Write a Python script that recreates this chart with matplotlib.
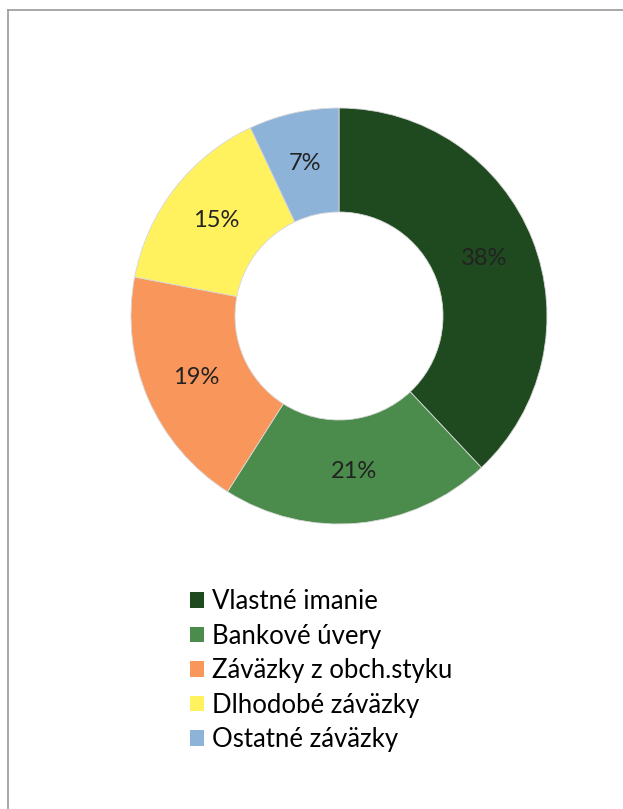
import matplotlib
matplotlib.use('Agg')
import matplotlib.pyplot as plt
from matplotlib.patches import Patch
from matplotlib.lines import Line2D
import numpy as np

# Data
labels = ['Vlastné imanie', 'Bankové úvery', 'Záväzky z obch.styku',
          'Dlhodobé záväzky', 'Ostatné záväzky']
shares = [38, 21, 19, 15, 7]
colors = ['#1f4a1f', '#4b8b4b', '#f8965c', '#fff25e', '#8db3d9']

plt.rcParams['font.family'] = ['Lato', 'DejaVu Sans']

W, H = 623, 809
fig = plt.figure(figsize=(W / 100, H / 100), dpi=100)
fig.patch.set_facecolor('white')

# Donut axes: centre (339, 316) px, radius 208 px
cx, cy, r = 339, 316, 208
ax = fig.add_axes([(cx - r) / W, (H - cy - r) / H, 2 * r / W, 2 * r / H])
wedges, _ = ax.pie(shares, colors=colors, startangle=90, counterclock=False,
                   radius=1, wedgeprops=dict(width=0.5, edgecolor='#d8d8d8', linewidth=0.6))
ax.set_xlim(-1, 1)
ax.set_ylim(-1, 1)
ax.set_aspect('equal')
ax.axis('off')

# Percentage labels in the middle of the ring
start = 90.0
for val in shares:
    sweep = val / sum(shares) * 360
    mid = np.deg2rad(start - sweep / 2)
    ax.text(0.75 * np.cos(mid), 0.75 * np.sin(mid), f'{val}%',
            ha='center', va='center', fontsize=17, color='#222222')
    start -= sweep

# Legend below
handles = [Patch(facecolor=c, edgecolor='none') for c in colors]
fig.legend(handles, labels, loc='upper left', frameon=False,
           bbox_to_anchor=(180 / W, 1 - 579 / H), fontsize=18.5,
           handlelength=0.55, handleheight=0.55, handletextpad=0.3,
           labelspacing=0.37, borderaxespad=0)

# Thin frame on left and top
fig.add_artist(Line2D([8 / W, 8 / W], [0, 1 - 10 / H], color='#9a9a9a', lw=1.2))
fig.add_artist(Line2D([8 / W, 1], [1 - 10 / H, 1 - 10 / H], color='#9a9a9a', lw=1.2))

fig.savefig('out.png', dpi=100)
